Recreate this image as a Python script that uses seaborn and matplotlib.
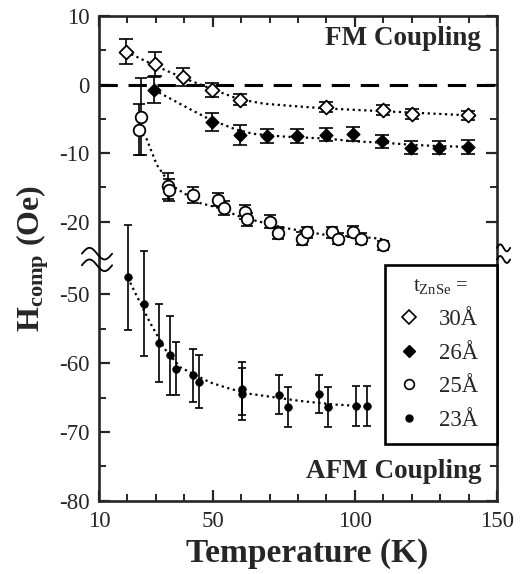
import matplotlib
matplotlib.use("Agg")
import matplotlib.pyplot as plt
from matplotlib.lines import Line2D
from matplotlib.ticker import FixedLocator
import numpy as np
import seaborn as sns

# settings
sns.set_style("ticks")
plt.rcParams['font.family'] = ['Liberation Serif', 'DejaVu Serif']
plt.rcParams['mathtext.fontset'] = 'custom'
plt.rcParams['mathtext.rm'] = 'Liberation Serif'
plt.rcParams['mathtext.bf'] = 'Liberation Serif:bold'
plt.rcParams['mathtext.it'] = 'Liberation Serif:italic'
plt.rcParams['axes.unicode_minus'] = False

# DATA (temperature in K, H_comp in Oe)
# tZnSe = 30 A (open diamonds)
t30 = [19.5, 29.7, 39.7, 49.9, 59.6, 89.8, 109.8, 120.0, 139.9]
h30 = [4.8, 3.0, 1.1, -0.8, -2.2, -3.3, -3.7, -4.3, -4.5]
e30 = [1.8, 1.8, 1.3, 1.0, 0.8, 0.7, 0.7, 0.7, 0.7]
# tZnSe = 26 A (filled diamonds)
t26 = [29.3, 49.9, 59.6, 69.2, 79.8, 89.7, 99.4, 109.6, 119.6, 129.6, 139.8]
h26 = [-0.8, -5.5, -7.4, -7.5, -7.5, -7.3, -7.2, -8.3, -9.2, -9.2, -9.1]
e26 = [1.9, 1.3, 1.5, 1.0, 1.0, 1.0, 1.0, 1.0, 1.0, 1.0, 1.0]
# tZnSe = 25 A (open circles)
t25 = [23.9, 24.7, 34.4, 34.6, 43.0, 52.0, 54.0, 61.4, 62.0, 70.1, 73.1, 81.3, 83.0, 91.8, 94.2, 99.5, 102.0, 110.0]
h25 = [-6.6, -4.7, -14.8, -15.4, -16.1, -16.8, -18.0, -18.6, -19.7, -20.0, -21.7, -22.5, -21.6, -21.6, -22.5, -21.5, -22.5, -23.5]
e25 = [3.7, 5.6, 1.9, 1.6, 1.2, 1.0, 1.0, 1.0, 0.9, 0.9, 0.9, 0.9, 0.8, 0.8, 0.8, 0.8, 0.8, 0.6]
# tZnSe = 23 A (small filled circles, lower panel)
t23 = [20.1, 25.9, 31.1, 35.0, 37.1, 43.2, 45.2, 60.3, 60.3, 73.4, 76.6, 87.4, 90.4, 100.4, 104.2]
h23 = [-47.6, -51.4, -57.1, -58.9, -60.8, -61.8, -62.7, -63.7, -64.5, -64.6, -66.4, -64.5, -66.4, -66.3, -66.3]
e23 = [7.6, 7.6, 5.7, 5.7, 3.8, 3.8, 3.8, 3.9, 3.8, 2.8, 2.9, 2.8, 2.9, 2.9, 2.9]

# dotted guide curves
f30_t = [19.5, 25, 30, 40, 50, 57, 60, 68, 80, 90, 100, 110, 120, 130, 140]
f30_h = [4.8, 3.7, 2.7, 0.9, -0.7, -1.8, -2.2, -2.8, -3.2, -3.5, -3.7, -3.9, -4.1, -4.3, -4.5]
f26_t = [29.3, 32.6, 42, 49, 58.4, 64.3, 75, 90, 100, 110, 120, 130, 140]
f26_h = [-0.8, -1.5, -3.6, -5.1, -6.6, -7.2, -7.6, -7.9, -8.3, -8.5, -8.8, -9.0, -9.1]
f25_t = [23.9, 26.8, 30.3, 34.4, 37.3, 45.5, 52, 59.6, 74.8, 88.9, 106.5, 110]
f25_h = [-6.6, -8.0, -11.7, -14.2, -15.2, -17.3, -18.0, -19.3, -20.9, -21.9, -22.4, -22.6]
f23_t = [20.1, 22.1, 27.9, 33.2, 38.5, 49, 55, 62, 80.7, 92.4, 104.2]
f23_h = [-47.6, -49.3, -54.1, -58.0, -60.6, -62.8, -63.6, -64.4, -65.5, -66.0, -66.3]

labels = ['30Å', '26Å', '25Å', '23Å']

fig = plt.figure(figsize=(5.28, 5.74), dpi=100)
ax = fig.add_axes([0.1875, 0.1272, 0.7538, 0.8449])
ax2 = ax.twinx()

dots = (0, (1, 1.6))
ebkw = dict(fmt='none', ecolor='k', elinewidth=1.2, capthick=1.2, zorder=3)

# upper part: FM side
ax.axhline(0, color='k', lw=2.2, dashes=(6, 3.5), zorder=1)
for ft, fh in [(f30_t, f30_h), (f26_t, f26_h), (f25_t, f25_h)]:
    sns.lineplot(x=ft, y=fh, ax=ax, color='k', lw=1.6, linestyle=dots, sort=False, zorder=2)
ax.errorbar(t30, h30, yerr=e30, capsize=5, **ebkw)
ax.errorbar(t26, h26, yerr=e26, capsize=5, **ebkw)
ax.errorbar(t25, h25, yerr=e25, capsize=4.5, **ebkw)
sns.scatterplot(x=t30, y=h30, ax=ax, marker='D', s=50, color='white', edgecolor='k', linewidth=1.3, zorder=4)
sns.scatterplot(x=t26, y=h26, ax=ax, marker='D', s=42, color='k', edgecolor='k', linewidth=1.0, zorder=4)
sns.scatterplot(x=t25, y=h25, ax=ax, marker='o', s=70, color='white', edgecolor='k', linewidth=1.3, zorder=4)

# lower part: AFM side (own scale, same spacing)
sns.lineplot(x=f23_t, y=f23_h, ax=ax2, color='k', lw=1.6, linestyle=dots, sort=False, zorder=2)
ax2.errorbar(t23, h23, yerr=e23, capsize=2.8, **ebkw)
sns.scatterplot(x=t23, y=h23, ax=ax2, marker='o', s=30, color='k', edgecolor='k', linewidth=0.5, zorder=4)

ax.set_xlim(10, 150)
ax.set_ylim(-60.8, 10)
ax2.set_ylim(-80, -9.7)

# ticks
ax.xaxis.set_major_locator(FixedLocator([10, 50, 100, 150]))
ax.xaxis.set_minor_locator(FixedLocator(list(range(10, 151, 10))))
ax.yaxis.set_major_locator(FixedLocator([10, 0, -10, -20]))
ax.yaxis.set_minor_locator(FixedLocator([5, -5, -15]))
ax2.yaxis.set_major_locator(FixedLocator([-50, -60, -70, -80]))
ax2.yaxis.set_minor_locator(FixedLocator([-55, -65, -75]))
for a in (ax, ax2):
    a.tick_params(which='major', direction='in', length=8, width=1.6, labelsize=16.5,
                  top=True, right=True, left=True, bottom=True, pad=7)
    a.tick_params(which='minor', direction='in', length=5, width=1.4,
                  top=True, right=True, left=True, bottom=True)
ax2.tick_params(axis='y', labelleft=True, labelright=False)
ax.tick_params(axis='y', labelright=False)
for s in ax.spines.values():
    s.set_linewidth(1.9)
for s in ax2.spines.values():
    s.set_visible(False)
ax2.set_ylabel('')

ax.set_xlabel('Temperature (K)', fontsize=24, fontweight='bold')
ax.xaxis.set_label_coords(0.524, -0.077)
ax.set_ylabel(r'$\mathbf{H_{comp}}$ (Oe)', fontsize=23, fontweight='bold')
ax.yaxis.set_label_coords(-0.12, 0.5)

ax.text(0.96, 0.953, 'FM Coupling', transform=ax.transAxes, ha='right', va='center',
        fontsize=19.5, fontweight='bold')
ax.text(0.962, 0.06, 'AFM Coupling', transform=ax.transAxes, ha='right', va='center',
        fontsize=19.5, fontweight='bold')

# axis break marks
w = np.linspace(0, 1, 40)
wave = 0.012 * np.sin(2 * np.pi * w)
for yc in (0.510, 0.486):
    ax.plot(-0.043 + 0.076 * w, yc + wave, transform=ax.transAxes, color='k', lw=1.3, clip_on=False, zorder=6)
    ax.plot(1.0 + 0.033 * w, yc + 0.012 + 0.6 * wave, transform=ax.transAxes, color='k', lw=1.3, clip_on=False, zorder=6)

# legend
handles = [Line2D([], [], ls='none', marker='D', ms=7, mfc='white', mec='k', mew=1.2),
           Line2D([], [], ls='none', marker='D', ms=6, mfc='k', mec='k'),
           Line2D([], [], ls='none', marker='o', ms=7, mfc='white', mec='k', mew=1.2),
           Line2D([], [], ls='none', marker='o', ms=5, mfc='k', mec='k')]
leg = ax2.legend(handles, labels, title=r't$_{\rm ZnSe}$ =', loc='upper left',
                 bbox_to_anchor=(0.719, 0.111, 0.281, 0.376), mode='expand',
                 fontsize=16.5, title_fontsize=15, frameon=True, fancybox=False,
                 framealpha=1, edgecolor='k', borderpad=0.55, labelspacing=0.55,
                 handlelength=1.0, handletextpad=0.8, borderaxespad=0)
leg.get_frame().set_linewidth(1.9)

fig.savefig('out.png', dpi=100)
